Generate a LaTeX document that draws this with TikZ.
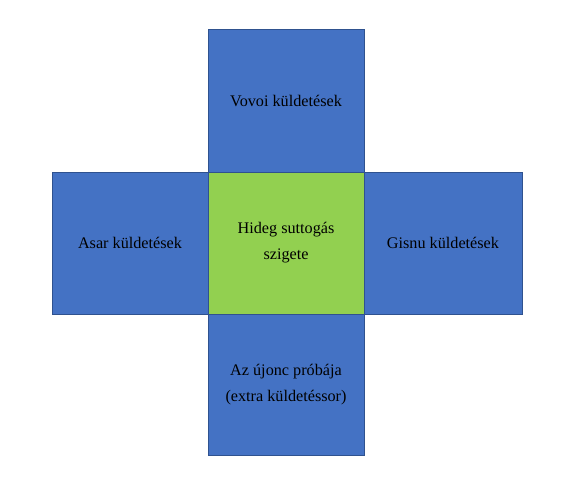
\documentclass[tikz,border=0pt]{standalone}
\usepackage{fontspec}
\setmainfont{Liberation Serif}
\definecolor{boxblue}{HTML}{4472C4}
\definecolor{boxgreen}{HTML}{92D050}
\definecolor{edgeblue}{HTML}{2F528F}
\begin{document}
\begin{tikzpicture}[x=1pt,y=-1pt,
  cell/.style={draw=edgeblue, line width=1pt, rectangle, inner sep=0pt,
    minimum width=156pt, minimum height=142pt, align=center,
    font=\fontsize{16.2}{26}\selectfont, text=black},
  bluecell/.style={cell, fill=boxblue},
  greencell/.style={cell, fill=boxgreen}]
\useasboundingbox (0,0) rectangle (581,500);
\node[bluecell] (top) at (286,101) {Vovoi küldetések};
\node[bluecell] (left) at (130,243) {Asar küldetések};
\node[bluecell, minimum width=158pt] (right) at (443,243) {Gisnu küldetések};
\node[bluecell, minimum height=141pt] (bottom) at (286,384.5) {Az újonc próbája\\(extra küldetéssor)};
\node[greencell] (center) at (286,243) {Hideg suttogás\\szigete};
\end{tikzpicture}
\end{document}
